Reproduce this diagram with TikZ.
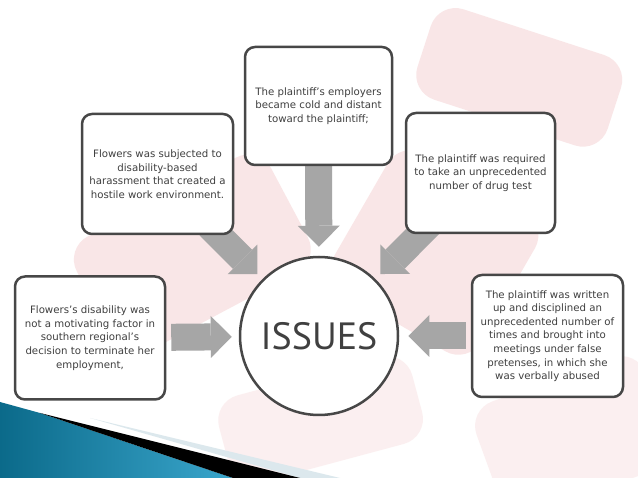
\documentclass[tikz,border=0pt]{standalone}
\usepackage{fontspec}
\setmainfont{DejaVu Sans}
\newfontfamily\issuefont{PT Sans}
\usetikzlibrary{arrows.meta}

\definecolor{boxtext}{HTML}{3F3F3F}
\definecolor{arrowgray}{HTML}{A6A6A6}
\definecolor{diepink}{HTML}{F2C2C4}
\definecolor{slidedark}{HTML}{0B6A8A}
\definecolor{slidelight}{HTML}{3AA6CC}
\definecolor{slidehaze}{HTML}{DCE8ED}

\pgfdeclarelayer{bg}
\pgfdeclarelayer{arrowlayer}
\pgfsetlayers{bg,arrowlayer,main}

\tikzset{
  issuebox/.style={draw=black!72, line width=2.5pt, fill=white, rounded corners=10pt,
    align=center, text=boxtext, inner sep=0pt,
    font=\fontsize{10.2}{13.6}\selectfont},
  hubcircle/.style={circle, draw=black!72, line width=2.5pt, fill=white,
    minimum size=158pt, inner sep=0pt, text=black!75,
    font=\issuefont\fontsize{38}{40}\selectfont},
  bigarrow/.style={arrowgray, line width=27pt,
    -{Triangle[width=42pt,length=21pt,line width=0pt]}},
  die/.style={fill=diepink, rounded corners=26pt, opacity=0.4},
}

\begin{document}
\begin{tikzpicture}[x=1pt,y=-1pt]
\useasboundingbox (0,0) rectangle (638,478);

% the nodes
\node[issuebox, minimum width=147pt, minimum height=118pt] (cold) at (318.5,106)
  {The plaintiff's employers\\became cold and distant\\toward the plaintiff;};
\node[issuebox, minimum width=151pt, minimum height=120pt] (harass) at (157.5,174)
  {Flowers was subjected to\\disability-based\\harassment that created a\\hostile work environment.};
\node[issuebox, minimum width=149pt, minimum height=120pt] (drug) at (480.5,173)
  {The plaintiff was required\\to take an unprecedented\\number of drug test};
\node[issuebox, minimum width=150pt, minimum height=123pt] (factor) at (90,338)
  {Flowers's disability was\\not a motivating factor in\\southern regional's\\decision to terminate her\\employment,};
\node[issuebox, minimum width=151pt, minimum height=122pt] (abused) at (547.5,336)
  {The plaintiff was written\\up and disciplined an\\unprecedented number of\\times and brought into\\meetings under false\\pretenses, in which she\\was verbally abused};
\node[hubcircle] (hub) at (319,336) {ISSUES};

% the arrows, behind the boxes
\begin{pgfonlayer}{arrowlayer}
\draw[bigarrow, shorten >=9pt] (cold.center) -- (hub);
\draw[bigarrow, shorten >=7pt] (harass.center) -- (hub);
\draw[bigarrow, shorten >=7pt] (drug.center) -- (hub);
\draw[bigarrow, shorten <=5pt, shorten >=7pt] (factor) -- (hub);
\draw[bigarrow, shorten <=5pt, shorten >=9pt] (abused) -- (hub);
\end{pgfonlayer}

% faded dice and the blue corner
\begin{pgfonlayer}{bg}
\fill[white] (0,0) rectangle (638,478);
\fill[die, rotate around={-18:(520,75)}] (420,30) rectangle (620,125);
\fill[die, rotate around={28:(190,250)}] (80,190) rectangle (300,320);
\fill[die, rotate around={-30:(430,250)}] (350,170) rectangle (520,330);
\fill[die, opacity=0.25, rotate around={20:(560,430)}] (480,380) rectangle (660,500);
\fill[die, opacity=0.25, rotate around={15:(300,420)}] (220,380) rectangle (420,470);
\fill[slidehaze] (90,418) -- (340,478) -- (300,478) -- cycle;
\shade[left color=slidedark, right color=slidelight] (0,402) -- (40,413) -- (233,478) -- (0,478) -- cycle;
\fill[black] (40,413) -- (300,478) -- (233,478) -- cycle;
\end{pgfonlayer}
\end{tikzpicture}
\end{document}
